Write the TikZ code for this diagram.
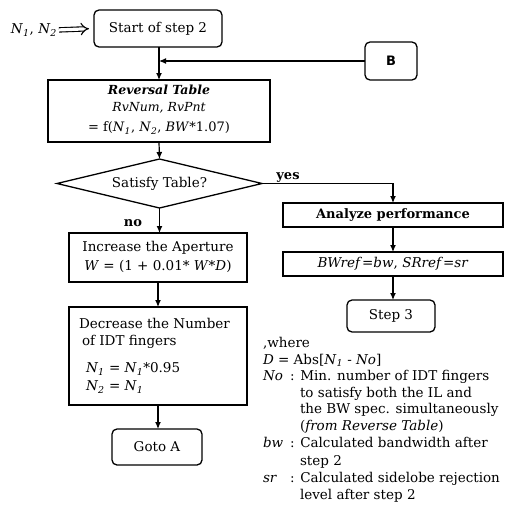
\documentclass[tikz,border=0pt]{standalone}
\usepackage{fontspec}
\setmainfont{DejaVu Serif}
\setsansfont{DejaVu Sans}
\usetikzlibrary{arrows.meta,shapes.geometric}
\newcommand\Ni[1]{\textit{N}\textsubscript{\textit{#1}}}
\begin{document}
\begin{tikzpicture}[x=1pt,y=-1pt,
  every node/.style={inner sep=0pt, outer sep=0pt},
  txt/.style={font=\fontsize{13.5}{15}\selectfont},
  box/.style={draw, line width=1.3pt, txt},
  rbox/.style={box, rounded corners=5pt},
  arr/.style={line width=1.2pt, -{Latex[length=7pt,width=6pt]}},
  lbl/.style={txt, anchor=base west},
  bl/.style={font=\fontsize{13}{15}\selectfont\bfseries}]
\useasboundingbox (0,0) rectangle (515,522);

% top
\node[rbox, minimum width=128pt, minimum height=37pt] (start) at (158,28.5) {Start of step 2};
\node[txt, anchor=east] (nin) at (57,30) {\Ni1, \Ni2};
\draw[double, double distance=3.2pt, line width=1.1pt, -{Implies[length=6pt]}, shorten >=5pt, shorten <=2pt] (nin.east) -- (start.west);
\node[rbox, minimum width=52pt, minimum height=38pt, font=\sffamily\bfseries\fontsize{13}{15}\selectfont] (bb) at (391,61) {B};

% reversal table
\node[box, minimum width=222pt, minimum height=62pt] (rev) at (159,111) {};
\node[font=\fontsize{12.5}{14}\selectfont\bfseries\itshape] (rev1) at (159,90) {Reversal Table};
\node[font=\fontsize{12.5}{14}\selectfont\itshape] (rev2) at (159,108) {RvNum, RvPnt};
\node[font=\fontsize{13}{14}\selectfont] (rev3) at (159,128) {= f(\Ni1, \Ni2, \textit{BW}*1.07)};

% decision
\node[draw, line width=1.3pt, diamond, aspect=4.2, minimum width=205pt, minimum height=49pt, txt] (dia) at (159.5,183.5) {Satisfy Table?};

% left column
\node[box, minimum width=178pt, minimum height=49pt] (inc) at (158,257.5) {};
\node[txt] (inc1) at (158,248) {Increase the Aperture};
\node[txt] (inc2) at (158,266) {\textit{W} = (1 + 0.01* \textit{W}*\textit{D})};

\node[box, minimum width=178pt, minimum height=98pt] (dec) at (158,356) {};
\node[txt, anchor=west] (dec1) at (79,323) {Decrease the Number};
\node[txt, anchor=west] (dec2) at (82,342) {of IDT fingers};
\node[txt, anchor=west] (dec3) at (86,369) {\Ni1 = \Ni1*0.95};
\node[txt, anchor=west] (dec4) at (86,387) {\Ni2 = \Ni1};

\node[rbox, minimum width=90pt, minimum height=36pt] (goto) at (157,447) {Goto A};

% right column
\node[box, bl, minimum width=220pt, minimum height=24pt] (ana) at (393,215) {Analyze performance};
\node[box, minimum width=220pt, minimum height=24pt] (bwr) at (393,264) {\textit{BWref}=\textit{bw}, \textit{SRref}=\textit{sr}};
\node[rbox, minimum width=88pt, minimum height=32pt] (step3) at (391,316) {Step 3};

% legend
\node[lbl] (w0) at (263,347) {,where};
\node[lbl] (w1) at (263,364) {\textit{D} = Abs[\Ni1 - \textit{No}]};
\node[lbl] (k2) at (263,380) {\textit{No}};
\node[lbl] (w2) at (290,380) {: Min. number of IDT fingers};
\node[lbl] (w3) at (300,397) {to satisfy both the IL and};
\node[lbl] (w4) at (300,413) {the BW spec. simultaneously};
\node[lbl] (w5) at (300,430) {(\textit{from Reverse Table})};
\node[lbl] (k6) at (263,447) {\textit{bw}};
\node[lbl] (w6) at (290,447) {: Calculated bandwidth after};
\node[lbl] (w7) at (300,465) {step 2};
\node[lbl] (k8) at (263,482) {\textit{sr}};
\node[lbl] (w8) at (290,482) {: Calculated sidelobe rejection};
\node[lbl] (w9) at (300,499) {level after step 2};

% connectors
\draw[arr] (rev.north |- start.south) -- (rev.north);
\draw[arr] (bb.west) -- (bb.west -| rev.north);
\draw[arr] (rev.south) -- (dia.north);
\draw[arr] (dia.south) -- (dia.south |- inc.north);
\node[bl] (no) at (133,223) {no};
\draw[arr] (dia.east) -| (ana.north);
\node[bl] (yes) at (288,177) {yes};
\draw[arr] (inc.south) -- (dec.north);
\draw[arr] (dec.south) -- (dec.south |- goto.north);
\draw[arr] (ana.south) -- (bwr.north);
\draw[arr] (bwr.south) -- (bwr.south |- step3.north);
\end{tikzpicture}
\end{document}
